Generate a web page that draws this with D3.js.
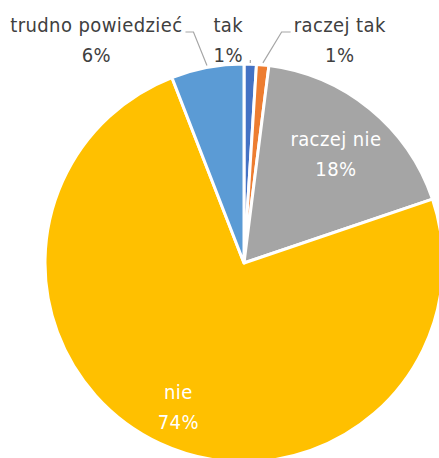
<!DOCTYPE html>
<html>
<head>
<meta charset="utf-8">
<script src="https://cdn.jsdelivr.net/npm/d3@7/dist/d3.min.js"></script>
<style>
    body { margin: 0; background: #fff; }
    svg { display: block; }
    text { font-family: "DejaVu Sans Condensed", "Liberation Sans Narrow", sans-serif; font-size: 20px; letter-spacing: 0.4px; }
</style>
</head>
<body>
<svg width="439" height="458"></svg>
<script>
    // data
    const categories = ["tak", "raczej tak", "raczej nie", "nie", "trudno powiedzieć"];
    const values = [1.0, 1.0, 17.8, 74.3, 5.9];
    const labels = ["1%", "1%", "18%", "74%", "6%"];
    const colors = ["#4472c4", "#ed7d31", "#a5a5a5", "#ffc000", "#5b9bd5"];

    // layout (not data)
    const cx = 244, cy = 263, r = 199;
    const inside = { 2: 0.73, 3: 0.78 };          // label radius as fraction of r
    const outside = { 0: -22, 1: 77, 4: -111 };   // horizontal shift of outside labels
    const topRow = 32;                              // baseline of first line for outside labels
    const lineGap = 30;

    const svg = d3.select("svg");
    const g = svg.append("g").attr("transform", `translate(${cx},${cy})`);

    const pie = d3.pie().sort(null).value(d => d.v);
    const data = categories.map((c, i) => ({ c, v: values[i], lab: labels[i], col: colors[i], i }));
    const arcs = pie(data);

    const arc = d3.arc().innerRadius(0).outerRadius(r);

    g.selectAll("path.slice")
        .data(arcs)
        .enter()
        .append("path")
        .attr("class", "slice")
        .attr("d", arc)
        .attr("fill", d => d.data.col)
        .attr("stroke", "#fff")
        .attr("stroke-width", 3)
        .attr("stroke-linejoin", "round");

    const mid = d => (d.startAngle + d.endAngle) / 2;
    const polar = (a, rad) => [Math.sin(a) * rad, -Math.cos(a) * rad];

    // inside labels
    arcs.filter(d => inside[d.data.i] !== undefined).forEach(d => {
        const [x, y] = polar(mid(d), r * inside[d.data.i]);
        const t = g.append("text")
            .attr("text-anchor", "middle")
            .attr("fill", "#fff");
        t.append("tspan").attr("x", x).attr("y", y - 5).text(d.data.c);
        t.append("tspan").attr("x", x).attr("y", y - 5 + lineGap).text(d.data.lab);
    });

    // outside labels with leader lines
    arcs.filter(d => outside[d.data.i] !== undefined).forEach(d => {
        const a = mid(d);
        const [px, py] = polar(a, r);
        const lx = px + outside[d.data.i];
        const ty = topRow - cy;
        const t = g.append("text")
            .attr("text-anchor", "middle")
            .attr("fill", "#404040");
        t.append("tspan").attr("x", lx).attr("y", ty).text(d.data.c);
        t.append("tspan").attr("x", lx).attr("y", ty + lineGap).text(d.data.lab);

        const w = t.node().getBBox().width;
        let pts;
        if (Math.abs(lx - px) < 40) {
            pts = [polar(a, r + 1), polar(a, r + 4)];
        } else {
            const ex = lx < px ? lx + w / 2 + 3 : lx - w / 2 - 3;
            const elbow = lx < px ? ex + 8 : ex - 9;
            pts = [[ex, ty], [elbow, ty], polar(a, r + 2)];
        }
        g.append("path")
            .attr("d", d3.line()(pts))
            .attr("fill", "none")
            .attr("stroke", "#a6a6a6")
            .attr("stroke-width", 1.2);
    });
</script>
</body>
</html>
